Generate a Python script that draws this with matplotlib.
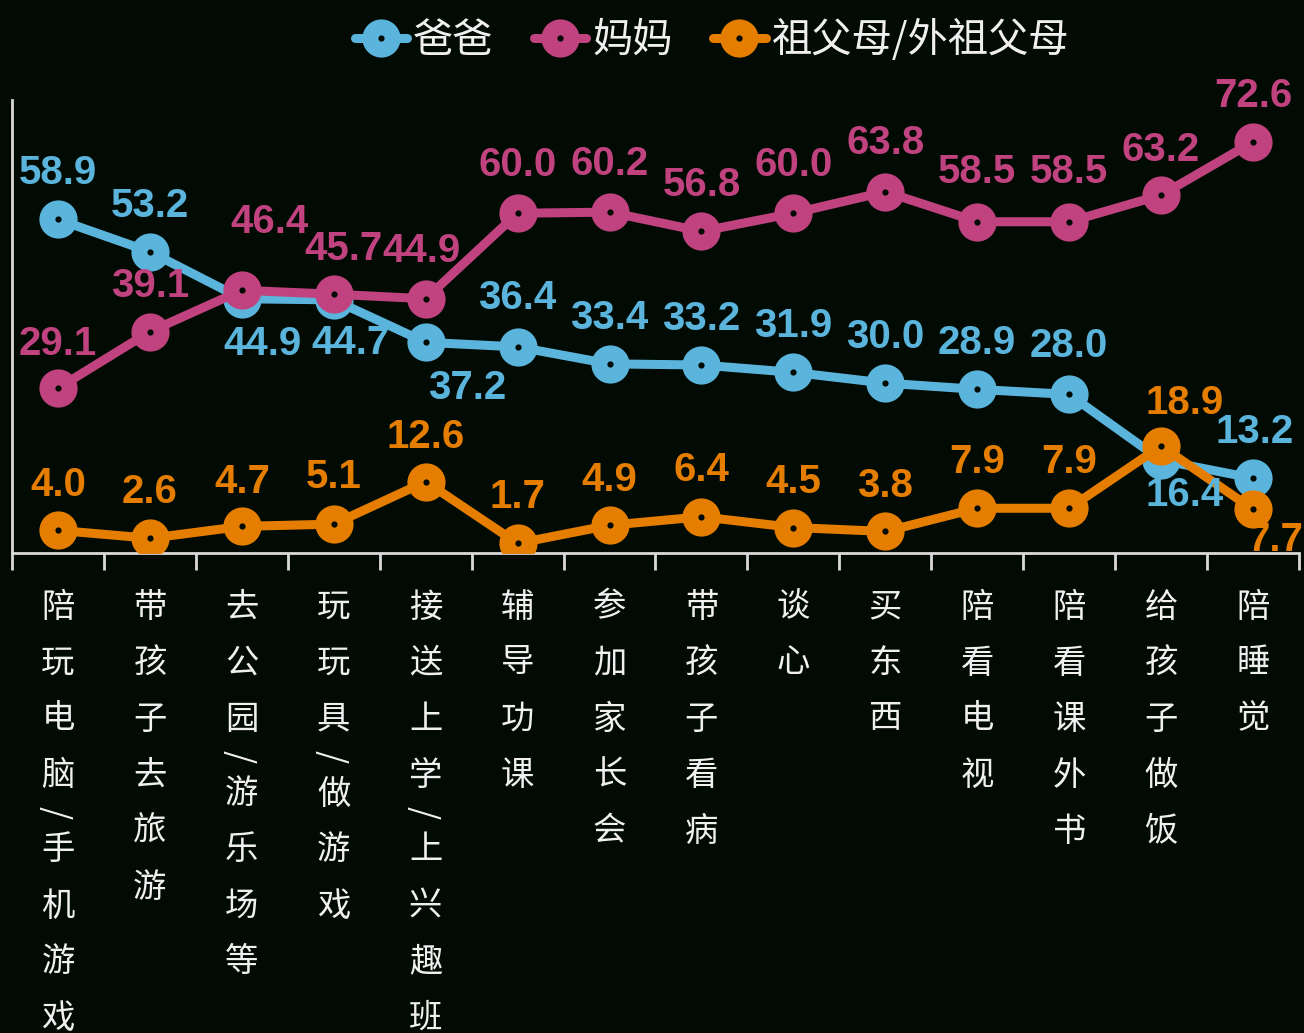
import matplotlib
matplotlib.use("Agg")
import matplotlib.pyplot as plt
import numpy as np

plt.rcParams["font.family"] = ["Noto Sans CJK SC", "DejaVu Sans"]

# -------------------------
# Data
# -------------------------
categories = [
    "陪玩电脑/手机游戏", "带孩子去旅游", "去公园/游乐场等", "玩玩具/做游戏",
    "接送上学/上兴趣班", "辅导功课", "参加家长会", "带孩子看病", "谈心",
    "买东西", "陪看电视", "陪看课外书", "给孩子做饭", "陪睡觉",
]
dad = [58.9, 53.2, 44.9, 44.7, 37.2, 36.4, 33.4, 33.2, 31.9, 30.0, 28.9, 28.0, 16.4, 13.2]
mom = [29.1, 39.1, 46.4, 45.7, 44.9, 60.0, 60.2, 56.8, 60.0, 63.8, 58.5, 58.5, 63.2, 72.6]
grand = [4.0, 2.6, 4.7, 5.1, 12.6, 1.7, 4.9, 6.4, 4.5, 3.8, 7.9, 7.9, 18.9, 7.7]

series_names = ["爸爸", "妈妈", "祖父母/外祖父母"]

# label offsets in pixels (dx, dy), dy up
UP = (0, 46)
dad_offsets = [UP, UP, (21, -45), (17, -43), (41, -46), (0, 49), UP, UP, UP, UP,
               UP, (0, 48), (24, -35), (2, 46)]
mom_offsets = [(0, 44), UP, (28, 68), (10, 45), (-4, 48), (0, 48), (0, 48), UP,
               (0, 48), (0, 49), (0, 50), (0, 50), (0, 45), UP]
grand_offsets = [(0, 45), UP, (0, 44), (0, 47), (0, 45), UP, (0, 45), (0, 47),
                 UP, (0, 45), UP, UP, (24, 43), (22, -31)]

# -------------------------
# Style
# -------------------------
BG = "#010a03"
AXIS = "#d9d9d9"
COLORS = ["#5ab4dc", "#c0437f", "#e57e00"]
PX = 0.72  # points per pixel at dpi 100

fig = plt.figure(figsize=(13.04, 10.33), dpi=100, facecolor=BG)
ax = fig.add_axes([12 / 1304, 1 - 553 / 1033, 1287 / 1304, 453 / 1033])
ax.set_facecolor(BG)

x = np.arange(len(categories))

for i, (vals, offs) in enumerate(zip([dad, mom, grand],
                                     [dad_offsets, mom_offsets, grand_offsets])):
    c = COLORS[i]
    ax.plot(x, vals, color=c, lw=6.5, marker="o", ms=16, mew=11.5,
            mfc=BG, mec=c, zorder=2 + i, label=series_names[i],
            solid_capstyle="round")
    for xi, v, (dx, dy) in zip(x, vals, offs):
        ax.annotate(f"{v:.1f}", (xi, v), xytext=(dx * PX, dy * PX),
                    textcoords="offset points", ha="center", va="center",
                    color=c, fontsize=29, fontweight="bold",
                    family="Liberation Sans", zorder=6, annotation_clip=False)

ax.set_xlim(-0.5, len(categories) - 0.5)
ax.set_ylim(0, 80)

for side in ["top", "right"]:
    ax.spines[side].set_visible(False)
for side in ["left", "bottom"]:
    ax.spines[side].set_color(AXIS)
    ax.spines[side].set_linewidth(2)

ax.set_yticks([])
ax.set_xticks(np.arange(len(categories) + 1) - 0.5)
ax.set_xticklabels([])
ax.tick_params(axis="x", direction="out", length=12, width=2, color=AXIS)

# vertical category labels, one character per line; the slash takes a shorter slot
for xi, name in zip(x, categories):
    y = 54
    for k, ch in enumerate(name):
        if ch == "/":
            y += 37 - 56
            ax.annotate(ch, (xi, 0), xytext=(0, -y * PX), textcoords="offset points",
                        ha="center", va="center", color="#f0f0f0", fontsize=24,
                        rotation=90, annotation_clip=False)
            y += 38
            continue
        ax.annotate(ch, (xi, 0), xytext=(0, -y * PX), textcoords="offset points",
                    ha="center", va="center", color="#f0f0f0", fontsize=24,
                    annotation_clip=False)
        y += 56

fig.legend(loc="upper center", bbox_to_anchor=(0.546, 1.017), ncol=3,
           frameon=False, fontsize=29, handlelength=1.3, handletextpad=0.15,
           columnspacing=1.0, labelcolor="#f0f0f0", markerscale=1.0)

plt.savefig("out.png", dpi=100, facecolor=BG)
plt.close()
